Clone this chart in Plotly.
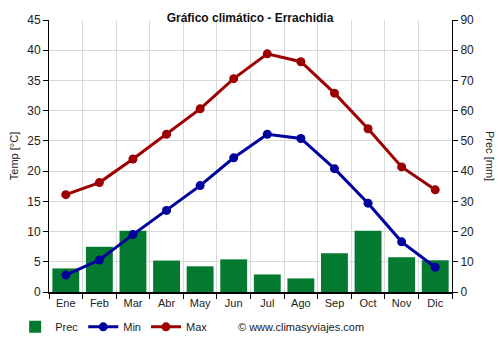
import plotly.graph_objects as go

months = ["Ene", "Feb", "Mar", "Abr", "May", "Jun", "Jul", "Ago", "Sep", "Oct", "Nov", "Dic"]
prec = [7.8, 15.0, 20.3, 10.4, 8.5, 10.8, 5.8, 4.5, 12.8, 20.3, 11.5, 10.5]
tmin = [2.8, 5.3, 9.5, 13.5, 17.6, 22.2, 26.1, 25.4, 20.4, 14.7, 8.3, 4.1]
tmax = [16.1, 18.1, 22.0, 26.1, 30.3, 35.3, 39.4, 38.1, 32.9, 27.0, 20.7, 16.9]

FONT = "Liberation Sans, Arial, sans-serif"
GREEN = "#047a30"
BLUE = "#00009c"
RED = "#9c0000"

fig = go.Figure()
fig.add_trace(go.Bar(x=months, y=prec, name="Prec", marker=dict(color=GREEN, line=dict(width=0)),
                     width=0.8, yaxis="y"))
fig.add_trace(go.Scatter(x=months, y=tmin, name="Min", mode="lines+markers",
                         line=dict(color=BLUE, width=3), marker=dict(color=BLUE, size=9),
                         yaxis="y2"))
fig.add_trace(go.Scatter(x=months, y=tmax, name="Max", mode="lines+markers",
                         line=dict(color=RED, width=3), marker=dict(color=RED, size=9),
                         yaxis="y2"))

fig.update_layout(
    width=500, height=350,
    margin=dict(l=49, r=48, t=20, b=58, autoexpand=False),
    paper_bgcolor="white", plot_bgcolor="white",
    font=dict(family=FONT, size=11, color="#222222"),
    title=dict(text="<b>Gráfico climático - Errachidia</b>", x=0.5, xanchor="center",
               y=1 - 18 / 350, yanchor="middle", font=dict(size=12, color="#111111")),
    showlegend=True,
    legend=dict(orientation="h", x=-0.084, xanchor="left", y=-0.128, yanchor="middle",
                font=dict(size=11, color="#222222"), itemwidth=30, traceorder="normal",
                bgcolor="rgba(0,0,0,0)"),
    bargap=0.2,
    xaxis=dict(type="category", tickson="boundaries", showgrid=True, gridcolor="#d9d9d9",
               gridwidth=1, ticks="outside", ticklen=5, tickcolor="#000000",
               showline=True, linecolor="#000000", linewidth=2,
               tickfont=dict(size=11, color="#222222"), range=[-0.5, 11.5]),
    yaxis=dict(title=None, side="right", range=[0, 90], dtick=10, showgrid=True,
               gridcolor="#d9d9d9", gridwidth=1, ticks="outside", ticklen=5,
               tickcolor="#000000", showline=True, linecolor="#000000", linewidth=1,
               tickfont=dict(size=12, color="#222222"), zeroline=False, fixedrange=True),
    yaxis2=dict(title=dict(text="Temp [°C]", font=dict(size=11, color="#222222"), standoff=6),
                side="left", overlaying="y", range=[0, 45], dtick=5, showgrid=False,
                ticks="outside", ticklen=5, tickcolor="#000000", showline=True,
                linecolor="#000000", linewidth=1, tickfont=dict(size=12, color="#222222"),
                zeroline=False),
)

fig.add_annotation(text="Prec [mm]", textangle=90, xref="paper", yref="paper",
                   x=1 + 38 / 403, y=0.5, xanchor="center", yanchor="middle",
                   showarrow=False, font=dict(size=11, color="#222222"))
fig.add_annotation(text="© www.climasyviajes.com", xref="paper", yref="paper",
                   x=(236 - 49) / 403, y=-0.128, xanchor="left", yanchor="middle",
                   showarrow=False, font=dict(size=11, color="#222222"))

fig.write_html("out.html")
